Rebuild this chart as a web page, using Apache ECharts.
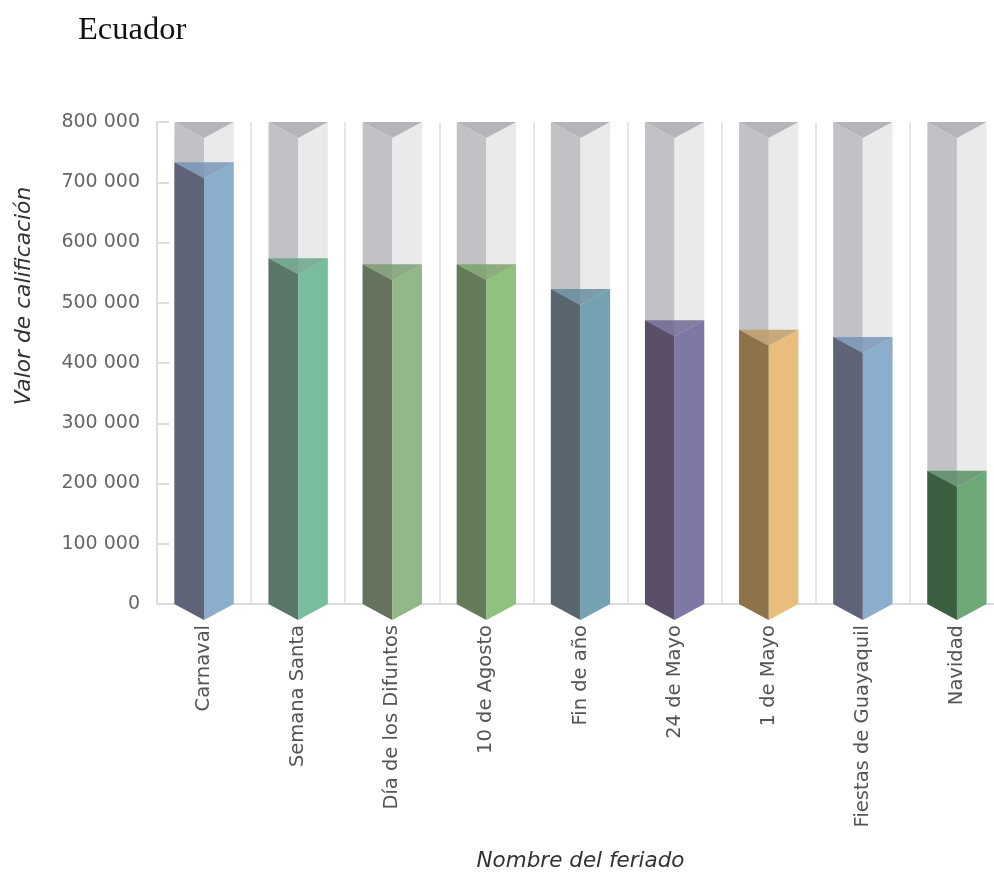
<!DOCTYPE html>
<html>
<head>
<meta charset="utf-8">
<script src="https://cdn.jsdelivr.net/npm/echarts@6/dist/echarts.min.js"></script>
<style>html,body{margin:0;padding:0;background:#fff;}#c{width:994px;height:872px;}</style>
</head>
<body>
<div id="c"></div>
<script>
const categories = ["Carnaval","Semana Santa","Día de los Difuntos","10 de Agosto","Fin de año","24 de Mayo","1 de Mayo","Fiestas de Guayaquil","Navidad"];
const values = [733000, 574000, 564000, 564000, 523000, 471000, 455000, 443000, 221000];
const maxValues = [800000, 800000, 800000, 800000, 800000, 800000, 800000, 800000, 800000];
const yTicks = [0, 100000, 200000, 300000, 400000, 500000, 600000, 700000, 800000];
const darkColors = ["#5f6378","#5a7666","#65735c","#647b5a","#596670","#5b4e68","#8c734a","#5f6378","#3b5f40"];
const lightColors = ["#8aaecb","#78bd9d","#91b886","#8fc27c","#74a2b3","#7e78a6","#e9bd7b","#8aaecb","#6fa877"];
const topColors = ["rgba(112,144,180,0.8)","rgba(98,160,132,0.8)","rgba(120,152,110,0.8)","rgba(118,160,100,0.8)","rgba(98,136,152,0.8)","rgba(106,98,142,0.8)","rgba(190,152,96,0.8)","rgba(112,144,180,0.8)","rgba(84,136,94,0.8)"];

const FONT = '"DejaVu Sans", "Liberation Sans", Arial, sans-serif';
const chart = echarts.init(document.getElementById('c'), null, {renderer:'canvas'});

function prism(params, api, left, right, topc) {
  const x = api.value(0);
  const v = api.value(1);
  const top = api.coord([x, v]);
  const base = api.coord([x, 0]);
  const bw = api.size([1, 0])[0] * 0.63;
  const d = 16;
  const x0 = top[0] - bw / 2, x1 = top[0] + bw / 2, xc = top[0];
  const yt = top[1], yb = base[1];
  return {
    type: 'group',
    children: [
      {type:'polygon', shape:{points:[[x0,yt],[xc,yt+d],[xc,yb+d],[x0,yb]]}, style:{fill:left}},
      {type:'polygon', shape:{points:[[xc,yt+d],[x1,yt],[x1,yb],[xc,yb+d]]}, style:{fill:right}},
      {type:'polygon', shape:{points:[[x0,yt],[x1,yt],[xc,yt+d]]}, style:{fill:topc}}
    ]
  };
}

chart.setOption({
  animation: false,
  title: {
    text: 'Ecuador', left: 73, top: 9,
    textStyle: {fontFamily: '"Liberation Serif", "DejaVu Serif", serif', fontSize: 32.5, fontWeight: 'normal', color: '#111'}
  },
  grid: {left: 157, top: 122, width: 847, height: 482, outerBoundsMode: 'none', containLabel: false},
  xAxis: {
    type: 'category',
    data: categories,
    boundaryGap: true,
    name: 'Nombre del feriado',
    nameLocation: 'middle',
    nameGap: 246,
    nameTextStyle: {fontFamily: FONT, fontStyle: 'italic', fontSize: 21.5, color: '#333'},
    axisLine: {show: true, lineStyle: {color: '#dcdcdc', width: 2}},
    axisTick: {show: false},
    splitLine: {show: true, lineStyle: {color: '#e6e6e6', width: 2}},
    axisLabel: {rotate: 90, margin: 21, fontFamily: FONT, fontSize: 19.5, color: '#555', interval: 0}
  },
  yAxis: {
    type: 'value',
    min: 0, max: 800000, interval: 100000,
    axisLine: {show: true, lineStyle: {color: '#dcdcdc', width: 2}},
    axisTick: {show: true, inside: true, length: 12, lineStyle: {color: '#dcdcdc', width: 2}},
    splitLine: {show: false},
    axisLabel: {
      margin: 17, fontFamily: FONT, fontSize: 19, color: '#666',
      formatter: function (v) { return yTicks.indexOf(v) >= 0 ? String(v).replace(/\B(?=(\d{3})+(?!\d))/g, ' ') : ''; }
    }
  },
  graphic: [{
    type: 'text',
    x: 24, y: 296,
    rotation: Math.PI / 2,
    style: {
      text: 'Valor de calificación',
      fontFamily: FONT, fontStyle: 'italic', fontSize: 21.8, fill: '#333',
      align: 'center', verticalAlign: 'middle'
    }
  }],
  series: [
    {
      type: 'custom',
      data: maxValues.map((v, i) => [i, v]),
      renderItem: (params, api) => prism(params, api, '#c1c2c5', '#e9eaea', '#b4b5b9'),
      encode: {x: 0, y: 1},
      z: 2
    },
    {
      type: 'custom',
      data: values.map((v, i) => [i, v]),
      renderItem: (params, api) => {
        const i = params.dataIndex;
        return prism(params, api, darkColors[i], lightColors[i], topColors[i]);
      },
      encode: {x: 0, y: 1},
      z: 3
    }
  ]
});
</script>
</body>
</html>
